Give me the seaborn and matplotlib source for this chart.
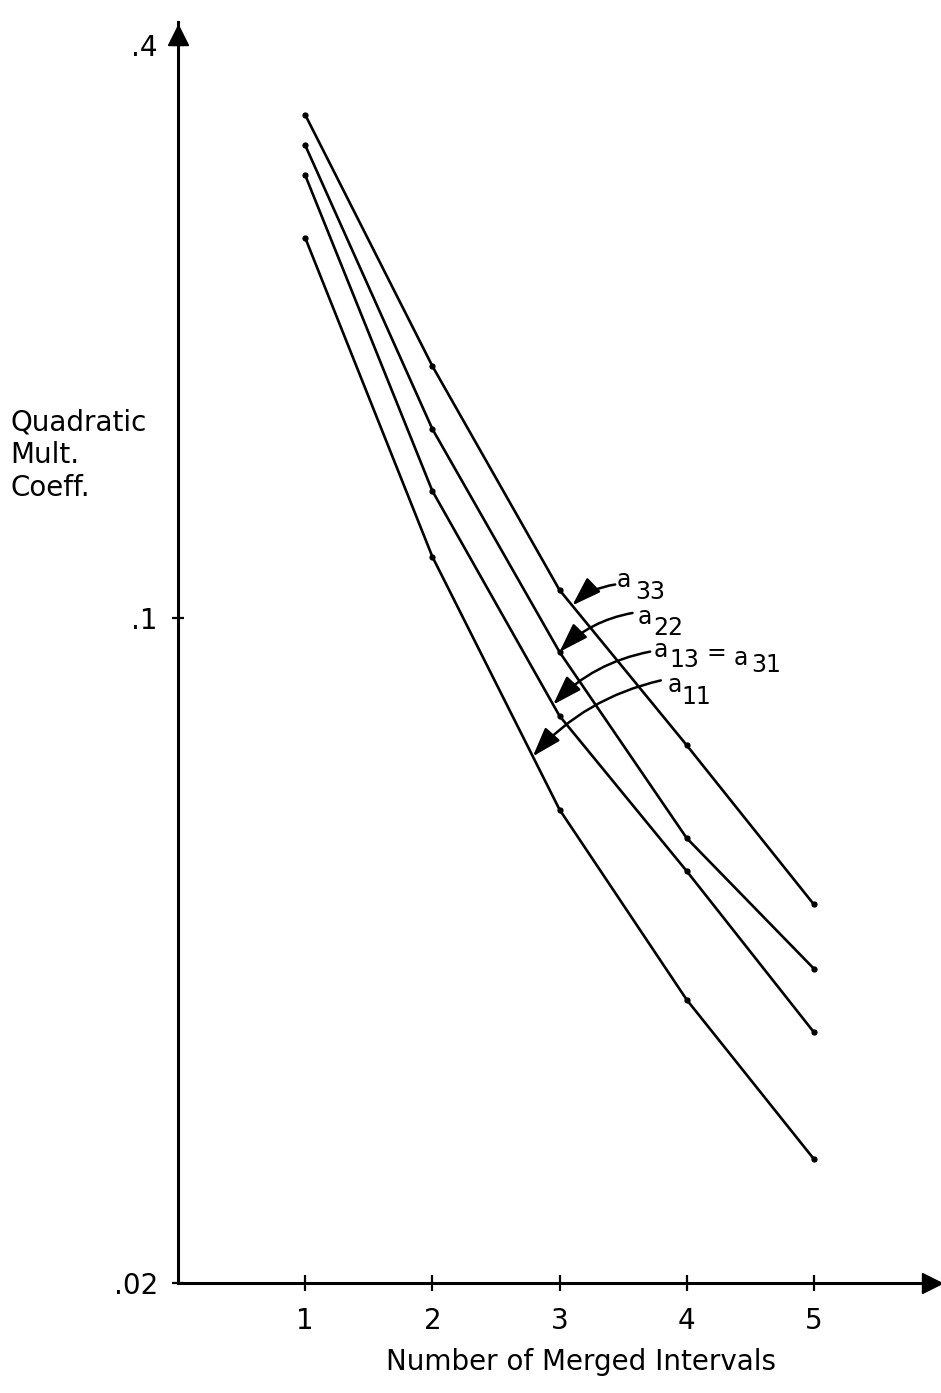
import numpy as np
import pandas as pd
import matplotlib
matplotlib.use("Agg")
import matplotlib.pyplot as plt
from matplotlib.ticker import FixedLocator, NullLocator, FixedFormatter
import seaborn as sns

# Quadratic multiplier coefficients versus number of merged intervals
intervals = [1, 2, 3, 4, 5]
a33 = [0.338, 0.184, 0.107, 0.0735, 0.050]
a22 = [0.314, 0.158, 0.0921, 0.0587, 0.0428]
a13 = [0.292, 0.136, 0.0789, 0.0542, 0.0367]
a11 = [0.251, 0.116, 0.0629, 0.0397, 0.0270]

series_names = ["a33", "a22", "a13", "a11"]
y_ticks = [0.02, 0.1, 0.4]
y_tick_labels = [".02", ".1", ".4"]
x_ticks = [1, 2, 3, 4, 5]
x_tick_labels = ["1", "2", "3", "4", "5"]

df = pd.concat(
    [pd.DataFrame({"intervals": intervals, "coef": vals, "series": name})
     for name, vals in zip(series_names, [a33, a22, a13, a11])],
    ignore_index=True,
)

sns.set_style("white")
plt.rcParams["font.family"] = ["DejaVu Sans"]
plt.rcParams["text.color"] = "black"
plt.rcParams["axes.labelcolor"] = "black"

W, H = 941, 1393
fig = plt.figure(figsize=(W / 100, H / 100), dpi=100)
ax = fig.add_axes([178 / W, (H - 1283) / H, (W - 178) / W, (1283 - 22) / H])

sns.lineplot(
    data=df, x="intervals", y="coef", hue="series",
    palette=["black"] * 4, marker="o", markersize=4.5, markeredgewidth=0,
    linewidth=1.9, legend=False, ax=ax, sort=False,
)

ax.set_yscale("log")
ax.set_xlim(0, 6)
ax.set_ylim(0.02, 0.423)

ax.yaxis.set_major_locator(FixedLocator(y_ticks))
ax.yaxis.set_major_formatter(FixedFormatter(y_tick_labels))
ax.yaxis.set_minor_locator(NullLocator())
ax.xaxis.set_major_locator(FixedLocator(x_ticks))
ax.xaxis.set_major_formatter(FixedFormatter(x_tick_labels))

ax.tick_params(axis="both", direction="inout", color="black", width=1.6,
               labelsize=20, labelcolor="black", bottom=True, left=True)
ax.tick_params(axis="x", length=12, pad=11)
ax.tick_params(axis="y", length=9, pad=10)

for side in ["top", "right"]:
    ax.spines[side].set_visible(False)
for side in ["left", "bottom"]:
    ax.spines[side].set_color("black")
    ax.spines[side].set_linewidth(2.2)

# arrowheads at the ends of both axes
ax.plot(0.988, 0, marker=">", color="black", markersize=14,
        transform=ax.transAxes, clip_on=False)
ax.plot(0, 0.99, marker="^", color="black", markersize=14,
        transform=ax.transAxes, clip_on=False)

ax.set_xlabel("Number of Merged Intervals", fontsize=20, va="center")
ax.xaxis.set_label_coords((581 - 178) / 763, (1283 - 1362) / 1261)
ax.set_ylabel("Quadratic\nMult.\nCoeff.", fontsize=20, rotation=0,
              ha="left", va="center", multialignment="left", linespacing=1.22)
ax.yaxis.set_label_coords((10 - 178) / 763, (1283 - 455) / 1261)


def on_line(vals, x):
    """Point on a series (log-linear between neighbouring points)."""
    return x, 10 ** np.interp(x, intervals, np.log10(vals))


# curved leader arrows with subscripted labels
callouts = [
    # series, x of arrow tip, arrow start offset, text pieces (text, dx, dy, size)
    (a33, 3.10, (43, 21), [("a", 52, 26, 17), ("33", 78, 14, 17)]),
    (a22, 3.00, (73, 39), [("a", 85, 35, 17), ("22", 109, 24, 17)]),
    (a13, 2.95, (97, 53), [("a", 108, 55, 17), ("13", 131, 45, 17),
                           ("=", 163, 52, 17), ("a", 188, 47, 17),
                           ("31", 213, 40, 17)]),
    (a11, 2.79, (128, 76), [("a", 142, 71, 17), ("11", 164, 59, 17)]),
]

for vals, xt, start, pieces in callouts:
    tip = on_line(vals, xt)
    ax.annotate(
        "", xy=tip, xycoords="data", xytext=start, textcoords="offset pixels",
        arrowprops=dict(arrowstyle="-|>,head_length=0.9,head_width=0.3",
                        connectionstyle="arc3,rad=0.16", color="black",
                        lw=1.8, shrinkA=0, shrinkB=0, mutation_scale=20),
    )
    for txt, dx, dy, size in pieces:
        ax.annotate(txt, xy=tip, xycoords="data", xytext=(dx, dy),
                    textcoords="offset pixels", fontsize=size,
                    ha="center", va="center", color="black")

fig.savefig("out.png", dpi=100, facecolor="white")
